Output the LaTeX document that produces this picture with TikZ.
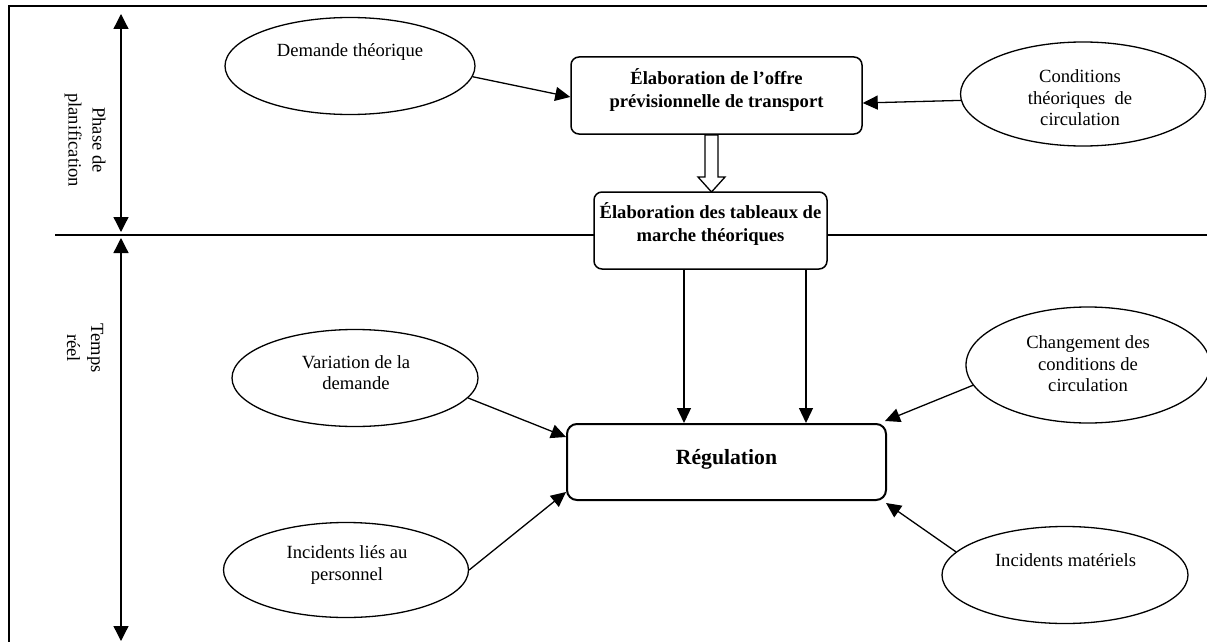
\documentclass[tikz,border=0pt]{standalone}
\usepackage{fontspec}
\setmainfont{Liberation Serif}
\usetikzlibrary{arrows.meta,shapes.geometric,calc}
\begin{document}
\begin{tikzpicture}[x=1pt,y=-1pt,
  line width=1.3pt,
  arr/.style={-{Triangle[length=15pt,width=14pt]}},
  dblarr/.style={{Triangle[length=15pt,width=15pt]}-{Triangle[length=15pt,width=15pt]}},
  oval/.style={draw,ellipse,inner sep=0pt},
  ovaltext/.style={align=center,font=\fontsize{18.6}{21.5}\selectfont},
  stepbox/.style={draw,rounded corners=8pt,inner sep=0pt,line width=1.5pt},
  steptext/.style={align=center,font=\fontsize{18.6}{23.5}\selectfont\bfseries},
  phase/.style={align=center,rotate=-90,font=\fontsize{18.6}{24}\selectfont}]
\useasboundingbox (0,0) rectangle (1207,642);

% frame and phase separator
\draw (9,642) -- (9,6) -- (1207,6);
\draw (55,235) -- (1207,235);

% phase arrows
\coordinate (p1) at (121,14);
\coordinate (p2) at (121,232);
\coordinate (p3) at (121,238);
\coordinate (p4) at (121,641);
\draw[dblarr] (p1) -- (p2);
\draw[dblarr] (p3) -- (p4);
\node[phase] (phplan) at (85,140) {Phase de\\planification};
\node[phase] (phtr) at (85,348) {Temps\\réel};

% process boxes
\node[stepbox,minimum width=291pt,minimum height=77pt] (offre) at (716.5,95.5) {};
\node[steptext] (offretxt) at (716.5,90) {Élaboration de l’offre\\prévisionnelle de transport};
\node[stepbox,fill=white,minimum width=233pt,minimum height=77pt] (tab) at (710.5,230.5) {};
\node[steptext] (tabtxt) at (710.5,224) {Élaboration des tableaux de\\marche théoriques};
\node[draw,line width=2pt,rounded corners=10pt,minimum width=319pt,minimum height=76pt] (reg) at (726.5,462) {};
\node[font=\fontsize{21.7}{26}\selectfont\bfseries] (regtxt) at (726.5,459) {Régulation};

% hollow arrow between the two planning boxes
\draw[line width=1.3pt,fill=white] (705,135) -- (718,135) -- (718,177) -- (725,177)
  -- (711.5,192) -- (698,177) -- (705,177) -- cycle;

% external factors
\node[oval,minimum width=250pt,minimum height=97pt] (demth) at (350,66) {};
\node[ovaltext] (demthtxt) at (350,52) {Demande théorique};
\node[oval,minimum width=245pt,minimum height=104pt] (condth) at (1083,94) {};
\node[ovaltext] (condthtxt) at (1080,98) {Conditions\\théoriques~ de\\circulation};
\node[oval,minimum width=246pt,minimum height=97pt] (vardem) at (355,378) {};
\node[ovaltext] (vardemtxt) at (356,372.5) {Variation de la\\demande};
\node[oval,minimum width=244pt,minimum height=116pt] (chcond) at (1088,365) {};
\node[ovaltext] (chcondtxt) at (1088,364) {Changement des\\conditions de\\circulation};
\node[oval,minimum width=245pt,minimum height=95pt] (incpers) at (346,570) {};
\node[ovaltext] (incperstxt) at (347,565) {Incidents liés au\\personnel};
\node[oval,minimum width=246pt,minimum height=97pt] (incmat) at (1065,575) {};
\node[ovaltext] (incmattxt) at (1065.5,560) {Incidents matériels};

% connectors
\draw[arr] (demth.-5) -- ([yshift=-1.5pt]offre.west);
\draw[arr] (condth.183) -- ([yshift=-7.5pt]offre.east);
\draw[arr] ([xshift=-26.5pt]tab.south) coordinate (s1) -- (s1 |- reg.north);
\draw[arr] ([xshift=95.5pt]tab.south) coordinate (s2) -- (s2 |- reg.north);
\draw[arr] (vardem.-10) -- ([yshift=25pt]reg.west);
\draw[arr] (incpers.east) -- ([yshift=-30pt]reg.west);
\draw[arr] (chcond.190) -- ([xshift=-2pt,yshift=2pt]reg.north east);
\draw[arr] (incmat.168) -- ([xshift=-1pt,yshift=-2pt]reg.south east);
\end{tikzpicture}
\end{document}
